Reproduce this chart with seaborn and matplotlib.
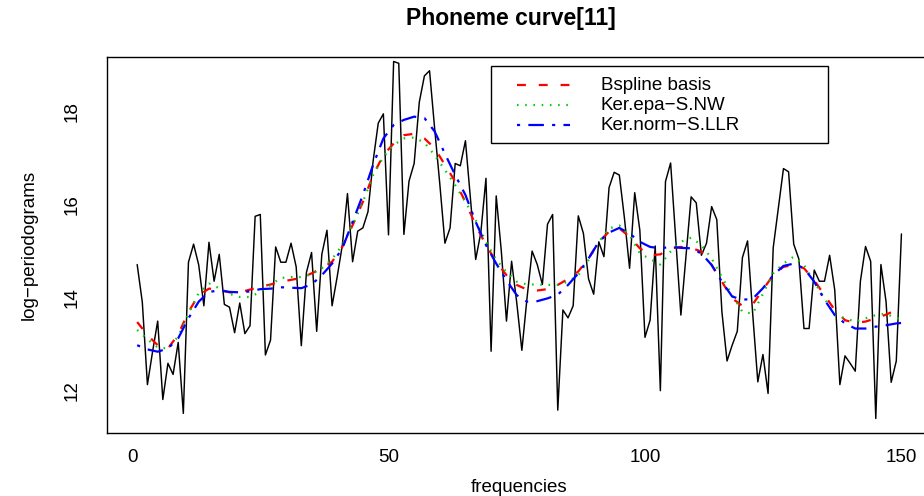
import matplotlib
matplotlib.use("Agg")
import matplotlib.pyplot as plt
from matplotlib.patches import Rectangle
from matplotlib.lines import Line2D
import pandas as pd
import seaborn as sns

# ---- data -----------------------------------------------------------------
frequencies = list(range(1, 151))
log_periodogram = [
    14.71, 13.90, 12.12, 12.83, 13.49, 11.80, 12.58, 12.34, 13.03, 11.50,
    14.76, 15.15, 14.70, 13.82, 15.19, 14.35, 14.93, 13.85, 13.79, 13.24,
    13.88, 13.22, 13.39, 15.75, 15.79, 12.76, 13.08, 15.09, 14.76, 14.76,
    15.17, 14.66, 12.96, 14.54, 14.97, 13.27, 14.93, 15.45, 13.82, 14.45,
    15.13, 16.24, 14.77, 15.43, 15.50, 15.85, 16.94, 17.76, 17.96, 15.35,
    19.09, 19.05, 15.36, 16.51, 16.89, 18.21, 18.78, 18.89, 17.64, 16.45,
    15.17, 15.50, 16.89, 16.84, 17.38, 16.10, 14.82, 15.40, 16.57, 12.84,
    16.19, 14.99, 13.49, 14.78, 13.89, 12.86, 13.98, 15.00, 14.71, 14.28,
    15.58, 15.79, 11.57, 13.73, 13.56, 13.82, 15.76, 15.38, 14.40, 14.07,
    15.20, 14.88, 16.37, 16.70, 16.64, 15.71, 14.63, 16.26, 15.45, 13.14,
    13.51, 15.11, 11.99, 16.50, 16.90, 15.26, 13.62, 14.89, 16.17, 16.04,
    14.91, 15.17, 15.96, 15.68, 13.69, 12.63, 12.97, 13.27, 14.86, 15.22,
    13.65, 12.18, 12.77, 11.93, 15.07, 15.93, 16.78, 16.71, 15.15, 14.83,
    13.33, 13.33, 14.59, 14.35, 14.35, 14.91, 14.16, 12.12, 12.74, 12.58,
    12.41, 14.35, 15.10, 14.78, 11.39, 14.71, 13.91, 12.17, 12.63, 15.37,
]

smooth_freq = list(range(1, 150, 2)) + [150]
bspline_basis = [
    13.47, 13.19, 12.97, 12.90, 13.20, 13.69, 14.05, 14.19, 14.17, 14.11,
    14.11, 14.17, 14.23, 14.28, 14.34, 14.38, 14.42, 14.52, 14.63, 14.77,
    15.09, 15.56, 16.06, 16.64, 17.07, 17.32, 17.50, 17.53, 17.43, 17.22,
    16.86, 16.50, 16.06, 15.56, 15.13, 14.77, 14.48, 14.27, 14.17, 14.15,
    14.18, 14.27, 14.40, 14.56, 14.84, 15.20, 15.42, 15.49, 15.31, 15.06,
    14.91, 14.93, 15.06, 15.09, 15.07, 14.99, 14.70, 14.34, 13.98, 13.82,
    13.85, 14.17, 14.48, 14.66, 14.70, 14.63, 14.37, 14.05, 13.73, 13.51,
    13.45, 13.48, 13.55, 13.63, 13.73, 13.77,
]
ker_epa_nw = [
    13.30, 13.10, 12.92, 12.90, 13.16, 13.65, 14.10, 14.30, 14.20, 14.08,
    14.01, 14.01, 14.12, 14.27, 14.42, 14.44, 14.44, 14.50, 14.63, 14.83,
    15.13, 15.56, 16.06, 16.64, 17.03, 17.29, 17.43, 17.45, 17.34, 17.07,
    16.75, 16.42, 16.06, 15.67, 15.20, 14.81, 14.55, 14.34, 14.28, 14.28,
    14.27, 14.27, 14.34, 14.48, 14.81, 15.20, 15.49, 15.55, 15.35, 14.95,
    14.83, 14.71, 14.99, 15.20, 15.29, 15.13, 14.84, 14.44, 14.05, 13.69,
    13.65, 14.08, 14.52, 14.73, 14.88, 14.70, 14.34, 13.98, 13.62, 13.55,
    13.48, 13.55, 13.62, 13.65, 13.55, 13.55,
]
ker_norm_llr = [
    12.97, 12.88, 12.83, 12.90, 13.12, 13.55, 13.91, 14.12, 14.15, 14.12,
    14.11, 14.13, 14.18, 14.19, 14.22, 14.21, 14.20, 14.28, 14.48, 14.73,
    15.06, 15.63, 16.21, 16.86, 17.43, 17.72, 17.83, 17.90, 17.87, 17.58,
    17.10, 16.64, 16.21, 15.63, 15.13, 14.73, 14.37, 14.05, 13.91, 13.92,
    13.98, 14.06, 14.27, 14.52, 14.84, 15.20, 15.40, 15.50, 15.38, 15.20,
    15.09, 15.06, 15.09, 15.07, 15.06, 14.95, 14.70, 14.34, 14.02, 13.95,
    13.97, 14.20, 14.48, 14.68, 14.73, 14.63, 14.34, 13.95, 13.62, 13.44,
    13.33, 13.33, 13.37, 13.40, 13.44, 13.45,
]

fit_labels = ["Bspline basis", "Ker.epa\u2212S.NW", "Ker.norm\u2212S.LLR"]
fit_colors = ["#FF0000", "#00CD00", "#0000FF"]
fit_dashes = [(4.0, 5.8), (0.7, 3.0), (1.4, 3.7, 7.0, 3.7)]
x_ticks = [0, 50, 100, 150]
y_ticks = [12, 14, 16, 18]

# ---- style ----------------------------------------------------------------
sns.set_style("white")
plt.rcParams["font.family"] = ["Liberation Sans", "DejaVu Sans"]
plt.rcParams["text.color"] = "black"
plt.rcParams["axes.edgecolor"] = "black"
plt.rcParams["axes.linewidth"] = 1.0

FS = 13.5
W, H = 924, 496
fig = plt.figure(figsize=(W / 100, H / 100), dpi=100)
L, R, T, B = 106.6, 932.0, 57.3, 433.3
ax = fig.add_axes([L / W, 1 - B / H, (R - L) / W, (B - T) / H])

raw = pd.DataFrame({"frequencies": frequencies, "logp": log_periodogram})
sns.lineplot(data=raw, x="frequencies", y="logp", color="black",
             linewidth=1.05, estimator=None, ax=ax)

fits = pd.DataFrame({"freq": smooth_freq,
                     fit_labels[0]: bspline_basis,
                     fit_labels[1]: ker_epa_nw,
                     fit_labels[2]: ker_norm_llr})
FIT_LW = 1.6
for name, col, dsh in zip(fit_labels, fit_colors, fit_dashes):
    sns.lineplot(data=fits, x="freq", y=name, color=col, linewidth=FIT_LW,
                 estimator=None, ax=ax)
    ax.lines[-1].set_dashes(dsh)

ax.set_xlim(-4.96, 155.96)
ax.set_ylim(11.07, 19.18)
ax.set_xticks(x_ticks)
ax.set_xticklabels([str(v) for v in x_ticks])
ax.set_yticks(y_ticks)
ax.set_yticklabels([str(v) for v in y_ticks], rotation=90, va="center")
ax.tick_params(axis="both", direction="out", length=8, width=1.0,
               color="black", labelsize=FS, labelcolor="black")
ax.tick_params(axis="x", pad=3.5)
ax.tick_params(axis="y", pad=11)
ax.set_xlabel("")
ax.set_ylabel("")
for sp in ax.spines.values():
    sp.set_visible(True)
    sp.set_color("black")
    sp.set_linewidth(1.0)

# titles and axis labels
fig.text(511 / W, 1 - 18 / H, "Phoneme curve[11]", ha="center", va="center",
         fontsize=16.5, fontweight="bold", color="black")
fig.text(519 / W, 1 - 487 / H, "frequencies", ha="center", va="center",
         fontsize=FS, color="black")
fig.text(29 / W, 1 - 245 / H, "log\u2212periodograms", ha="center",
         va="center", rotation=90, fontsize=FS, color="black")

# legend box
def afrac(px, py):
    return (px - L) / (R - L), (B - py) / (B - T)

x0, y0 = afrac(491, 143)
x1, y1 = afrac(828, 66)
ax.add_patch(Rectangle((x0, y0), x1 - x0, y1 - y0, transform=ax.transAxes,
                       facecolor="white", edgecolor="black", linewidth=1.0,
                       zorder=5))
for i, (name, col, dsh) in enumerate(zip(fit_labels, fit_colors, fit_dashes)):
    ry = 85 + 20 * i
    hx0, hy = afrac(517, ry)
    hx1, _ = afrac(570, ry)
    key = Line2D([hx0, hx1], [hy, hy], transform=ax.transAxes, color=col,
                 linewidth=FIT_LW, zorder=6)
    key.set_dashes(dsh)
    ax.add_line(key)
    tx, _ = afrac(601, ry)
    ax.text(tx, hy, name, transform=ax.transAxes, ha="left", va="center",
            fontsize=FS, color="black", zorder=6)

fig.savefig("out.png", dpi=100)
